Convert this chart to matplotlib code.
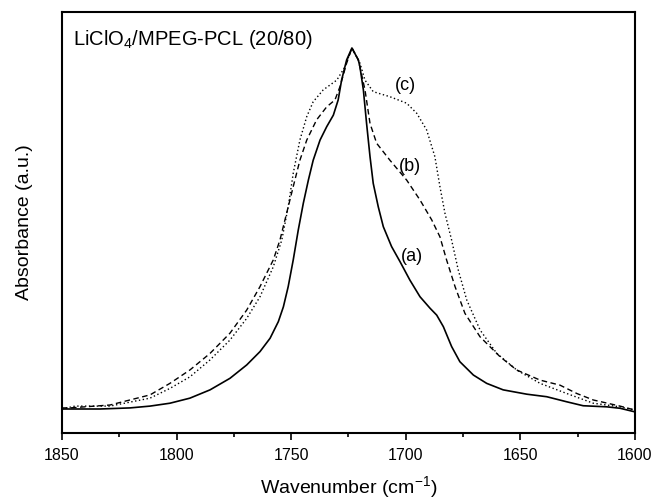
import matplotlib
matplotlib.use("Agg")
import matplotlib.pyplot as plt

plt.rcParams['font.family'] = ['Liberation Sans', 'DejaVu Sans']
plt.rcParams['mathtext.fontset'] = 'custom'
plt.rcParams['mathtext.rm'] = 'Liberation Sans'
plt.rcParams['mathtext.it'] = 'Liberation Sans:italic'

# (a) solid
wn_a = [1850, 1833.4, 1820.3, 1811.6, 1802.9, 1794.2, 1785.4, 1776.7, 1769.4, 1763.6,
        1759.2, 1755.6, 1753.4, 1751.3, 1749.1, 1746.9, 1744.7, 1742.5, 1740.4, 1737.4,
        1734.5, 1731.6, 1729.5, 1728.0, 1725.8, 1723.5, 1720.7, 1720.0, 1718.5, 1717.1,
        1715.6, 1714.2, 1712.0, 1709.8, 1706.2, 1702.5, 1698.2, 1693.8, 1689.4, 1686.5,
        1683.6, 1680.0, 1676.4, 1670.5, 1664.7, 1657.5, 1647.2, 1638.5, 1629.8, 1622.6,
        1612.3, 1606.5, 1600]
abs_a = [0.000, 0.000, 0.003, 0.008, 0.016, 0.030, 0.053, 0.085, 0.122, 0.159,
         0.196, 0.242, 0.283, 0.339, 0.413, 0.496, 0.570, 0.634, 0.689, 0.745,
         0.782, 0.814, 0.856, 0.911, 0.967, 1.000, 0.967, 0.948, 0.884, 0.791,
         0.699, 0.625, 0.560, 0.505, 0.450, 0.408, 0.357, 0.311, 0.279, 0.260,
         0.228, 0.173, 0.131, 0.094, 0.071, 0.053, 0.041, 0.034, 0.020, 0.009,
         0.006, 0.002, -0.008]

# (b) dashed
wn_b = [1850, 1846.5, 1829.1, 1811.6, 1802.9, 1794.2, 1785.4, 1776.7, 1769.4, 1763.6,
        1757.8, 1754.9, 1752.0, 1749.1, 1746.2, 1743.2, 1738.9, 1734.5, 1730.9, 1728.7,
        1725.8, 1723.5, 1720.7, 1717.8, 1715.6, 1712.7, 1706.9, 1699.6, 1693.8, 1688.7,
        1685.1, 1682.2, 1678.5, 1674.2, 1667.6, 1658.9, 1651.6, 1641.4, 1632.7, 1625.4,
        1618.2, 1606.5, 1600]
abs_b = [0.003, 0.003, 0.011, 0.039, 0.071, 0.108, 0.154, 0.210, 0.274, 0.339,
         0.413, 0.468, 0.542, 0.616, 0.689, 0.745, 0.801, 0.837, 0.856, 0.893,
         0.958, 1.000, 0.967, 0.884, 0.791, 0.736, 0.689, 0.634, 0.579, 0.524,
         0.477, 0.413, 0.339, 0.265, 0.200, 0.145, 0.108, 0.080, 0.066, 0.043,
         0.025, 0.008, -0.003]

# (c) dotted
wn_c = [1850, 1844.3, 1829.1, 1811.6, 1802.9, 1794.2, 1785.4, 1776.7, 1769.4, 1763.6,
        1757.8, 1754.1, 1751.3, 1749.1, 1746.2, 1743.2, 1740.4, 1736.0, 1730.1, 1726.5,
        1723.5, 1720.0, 1717.8, 1714.2, 1706.9, 1699.6, 1695.2, 1690.9, 1687.3, 1685.1,
        1682.9, 1680.0, 1677.1, 1673.4, 1667.6, 1660.3, 1651.6, 1641.4, 1629.8, 1618.2,
        1606.5, 1600]
abs_c = [0.000, 0.008, 0.008, 0.030, 0.057, 0.089, 0.136, 0.191, 0.251, 0.311,
         0.394, 0.468, 0.560, 0.653, 0.745, 0.810, 0.851, 0.884, 0.911, 0.948,
         1.000, 0.958, 0.911, 0.879, 0.865, 0.847, 0.819, 0.773, 0.699, 0.616,
         0.542, 0.468, 0.385, 0.302, 0.219, 0.154, 0.108, 0.071, 0.043, 0.016,
         0.006, -0.003]

labels = ['(a)', '(b)', '(c)']
label_x = [1697.4, 1698.2, 1700.3]
label_y = [0.422, 0.671, 0.897]

fig = plt.figure(figsize=(6.53, 5.0), dpi=100)
ax = fig.add_axes([0.0949, 0.134, 0.8775, 0.842])

ax.plot(wn_a, abs_a, color='black', lw=1.2, linestyle='-')
ax.plot(wn_b, abs_b, color='black', lw=1.0, linestyle=(0, (4, 2.5)))
ax.plot(wn_c, abs_c, color='black', lw=1.0, linestyle=(0, (1, 1.8)))

for t, x, y in zip(labels, label_x, label_y):
    ax.text(x, y, t, fontsize=13, ha='center', va='center')

ax.text(0.019, 0.962, 'LiClO$_4$/MPEG-PCL (20/80)', transform=ax.transAxes,
        fontsize=14.5, ha='left', va='top')

ax.set_xlim(1850, 1600)
ax.set_ylim(-0.0665, 1.0997)
ax.set_xticks([1850, 1800, 1750, 1700, 1650, 1600])
ax.set_xticks([1825, 1775, 1725, 1675, 1625], minor=True)
ax.set_yticks([])
ax.tick_params(axis='x', which='major', length=5, width=1.2, direction='out', labelsize=11.5, pad=6)
ax.tick_params(axis='x', which='minor', length=3, width=1.2, direction='out')
for s in ax.spines.values():
    s.set_linewidth(1.5)

ax.set_xlabel('Wavenumber (cm$^{-1}$)', fontsize=14, labelpad=8)
ax.set_ylabel('Absorbance (a.u.)', fontsize=14, labelpad=21)

fig.savefig('out.png', dpi=100)
